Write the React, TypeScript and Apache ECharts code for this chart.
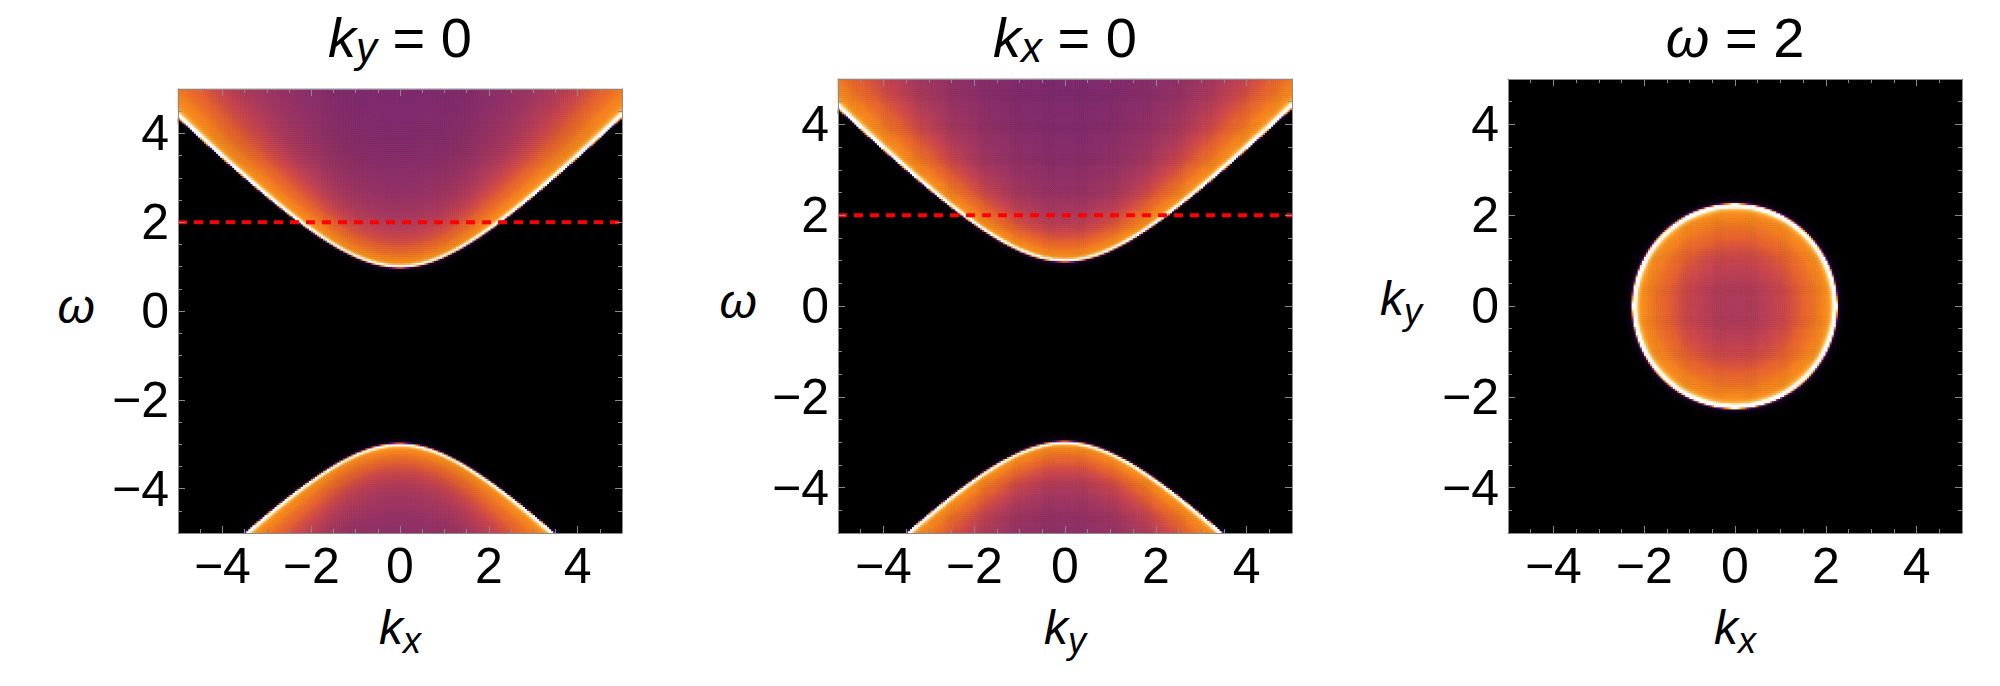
import React, { useEffect, useRef } from "react";
import * as echarts from "echarts";

// ---- data / model parameters ----
const AXIS_MIN = -5;
const AXIS_MAX = 5;
const TICK_LABELS = [-4, -2, 0, 2, 4];
const BAND_OFFSET = -1; // band centre: upper edge minimum at 1, lower edge maximum at -3
const BAND_GAP = 2; // half gap
const BROADENING = 0.03;
const CUT_OMEGA = 2; // red dashed line and third panel slice
const GRID_CELLS = 220;
const SUBSAMPLE = 3;
const VALUE_STOPS = [0, 0.4, 0.85, 1.06, 1.34, 1.5, 1.8, 2.4, 3.4, 4.5, 5.6];
const COLOR_STOPS = [
  "#000000",
  "#1e0830",
  "#5a1d6e",
  "#7d2a6e",
  "#ac3b5c",
  "#c8454e",
  "#e5622f",
  "#f3801f",
  "#f89020",
  "#fcc050",
  "#ffffff",
];
const PANEL_TITLES = ["{i|k}{s|y}{n| = 0}", "{i|k}{s|x}{n| = 0}", "{i|ω}{n| = 2}"];
const X_NAMES = ["{i|k}{s|x}", "{i|k}{s|y}", "{i|k}{s|x}"];
const Y_NAMES = ["{i|ω}", "{i|ω}", "{i|k}{s|y}"];

// ---- layout ----
const FONT = "Liberation Sans, Arial, Helvetica, sans-serif";
const FRAME = "#8a8a8a";
const TICK = "#8a8a8a";
const PANELS = [
  { left: 178, top: 89, size: 444, cx: 400, yGap: 83 },
  { left: 838, top: 79, size: 454, cx: 1065, yGap: 81 },
  { left: 1508, top: 79, size: 454, cx: 1735, yGap: 86 },
];

function spectral(k2: number, w: number): number {
  const a = w - BAND_OFFSET;
  const x = a * a - k2 - BAND_GAP * BAND_GAP;
  const r = Math.sqrt(x * x + BROADENING * BROADENING);
  const rp = x >= 0 ? r + x : (BROADENING * BROADENING) / (r - x);
  return (Math.abs(a) * Math.sqrt(rp / 2)) / r;
}

function toScale(v: number): number {
  const n = VALUE_STOPS.length;
  if (v <= VALUE_STOPS[0]) return 0;
  if (v >= VALUE_STOPS[n - 1]) return 1;
  for (let i = 1; i < n; i++) {
    if (v < VALUE_STOPS[i]) {
      const f = (v - VALUE_STOPS[i - 1]) / (VALUE_STOPS[i] - VALUE_STOPS[i - 1]);
      return (i - 1 + f) / (n - 1);
    }
  }
  return 1;
}

function buildSlice(valueAt: (a: number, b: number) => number): number[][] {
  const step = (AXIS_MAX - AXIS_MIN) / GRID_CELLS;
  const data: number[][] = [];
  for (let i = 0; i < GRID_CELLS; i++) {
    for (let j = 0; j < GRID_CELLS; j++) {
      let sum = 0;
      for (let si = 0; si < SUBSAMPLE; si++) {
        for (let sj = 0; sj < SUBSAMPLE; sj++) {
          const a = AXIS_MIN + (i + (si + 0.5) / SUBSAMPLE) * step;
          const b = AXIS_MIN + (j + (sj + 0.5) / SUBSAMPLE) * step;
          sum += valueAt(a, b);
        }
      }
      const v = sum / (SUBSAMPLE * SUBSAMPLE);
      if (v < 0.05) continue;
      data.push([i, j, toScale(v)]);
    }
  }
  return data;
}

const fmt = (v: number) =>
  TICK_LABELS.indexOf(v) >= 0 ? (v < 0 ? "\u2212" + Math.abs(v) : String(v)) : "";

const nameRich = {
  i: { fontFamily: FONT, fontSize: 48, fontStyle: "italic", lineHeight: 48, color: "#000" },
  s: { fontFamily: FONT, fontSize: 36, fontStyle: "italic", lineHeight: 36, padding: [26, 0, 0, 0], color: "#000" },
};
const titleRich = {
  i: { fontFamily: FONT, fontSize: 56, fontStyle: "italic", lineHeight: 56, color: "#000" },
  s: { fontFamily: FONT, fontSize: 42, fontStyle: "italic", lineHeight: 42, padding: [20, 0, 0, 0], color: "#000" },
  n: { fontFamily: FONT, fontSize: 56, lineHeight: 56, color: "#000" },
};

function buildOption() {
  const cats = Array.from({ length: GRID_CELLS }, (_, i) =>
    (AXIS_MIN + ((i + 0.5) * (AXIS_MAX - AXIS_MIN)) / GRID_CELLS).toFixed(4)
  );
  const grids: any[] = [];
  const xAxis: any[] = [];
  const yAxis: any[] = [];
  const series: any[] = [];
  const lineSeries: any[] = [];
  const slices = [
    buildSlice((kx, w) => spectral(kx * kx, w)),
    buildSlice((ky, w) => spectral(ky * ky, w)),
    buildSlice((kx, ky) => spectral(kx * kx + ky * ky, CUT_OMEGA)),
  ];

  PANELS.forEach((p, g) => {
    grids.push({
      left: p.left,
      top: p.top,
      width: p.size,
      height: p.size,
      show: true,
      backgroundColor: "#000",
      borderWidth: 0,
      outerBoundsMode: "none",
      containLabel: false,
    });
    const catX = xAxis.length;
    xAxis.push({ type: "category", gridIndex: g, data: cats, show: false });
    const majX = xAxis.length;
    const sideAxis = (pos: string, major: boolean, labels: boolean, isX: boolean, extra: any = {}) => ({
      type: "value",
      gridIndex: g,
      position: pos,
      min: AXIS_MIN,
      max: AXIS_MAX,
      ...(major ? { splitNumber: 5 } : { interval: 0.5 }),
      z: 5,
      axisLine: { show: major, onZero: false, lineStyle: { color: FRAME, width: 1 } },
      axisTick: { show: true, inside: true, length: major ? 7 : 4, lineStyle: { color: TICK, width: 1 } },
      axisLabel: labels
        ? {
            show: true,
            margin: isX ? 8 : 9,
            fontSize: 50,
            fontFamily: FONT,
            color: "#000",
            formatter: fmt,
            showMinLabel: false,
            showMaxLabel: false,
          }
        : { show: false },
      splitLine: { show: false },
      axisPointer: { show: false },
      ...extra,
    });
    xAxis.push(
      sideAxis("bottom", true, true, true, {
        name: X_NAMES[g],
        nameLocation: "middle",
        nameGap: 70,
        nameTextStyle: { rich: nameRich, fontFamily: FONT, fontSize: 48 },
      })
    );
    xAxis.push(sideAxis("bottom", false, false, true));
    xAxis.push(sideAxis("top", true, false, true));
    xAxis.push(sideAxis("top", false, false, true));

    const catY = yAxis.length;
    yAxis.push({ type: "category", gridIndex: g, data: cats, show: false });
    const majY = yAxis.length;
    const yPad = g === 2 ? [0, 0, 15, 0] : [0, 0, 9, 0];
    yAxis.push(
      sideAxis("left", true, true, false, {
        name: Y_NAMES[g],
        nameLocation: "middle",
        nameRotate: 0,
        nameGap: p.yGap,
        nameTextStyle: { rich: nameRich, fontFamily: FONT, fontSize: 48, padding: yPad },
      })
    );
    yAxis.push(sideAxis("left", false, false, false));
    yAxis.push(sideAxis("right", true, false, false));
    yAxis.push(sideAxis("right", false, false, false));

    series.push({
      type: "heatmap",
      name: "density " + (g + 1),
      xAxisIndex: catX,
      yAxisIndex: catY,
      data: slices[g],
      progressive: 0,
      progressiveThreshold: 100000000,
      itemStyle: { borderWidth: 0 },
      emphasis: { disabled: true },
      silent: true,
      z: 2,
    });
    if (g < 2) {
      lineSeries.push({
        type: "line",
        name: "cut " + (g + 1),
        xAxisIndex: majX,
        yAxisIndex: majY,
        data: [
          [AXIS_MIN, CUT_OMEGA],
          [AXIS_MAX, CUT_OMEGA],
        ],
        symbol: "none",
        silent: true,
        z: 3,
        lineStyle: { color: "#ff0000", width: 4, type: [9, 7] },
      });
    }
  });

  const graphic = PANELS.map((p, g) => ({
    type: "text",
    x: p.cx,
    y: 9.6,
    silent: true,
    style: {
      text: PANEL_TITLES[g],
      rich: titleRich,
      align: "center",
      verticalAlign: "top",
      fill: "#000",
    },
  }));

  return {
    animation: false,
    backgroundColor: "#ffffff",
    grid: grids,
    xAxis,
    yAxis,
    visualMap: {
      type: "continuous",
      show: false,
      seriesIndex: [0, 1, 2],
      dimension: 2,
      min: 0,
      max: 1,
      inRange: { color: COLOR_STOPS },
    },
    series: [...series, ...lineSeries],
    graphic,
  };
}

export default function App() {
  const ref = useRef<HTMLDivElement>(null);
  useEffect(() => {
    if (!ref.current) return;
    const chart = echarts.init(ref.current, null, { renderer: "svg" });
    chart.setOption(buildOption() as any);
    return () => chart.dispose();
  }, []);
  return (
    <div
      ref={ref}
      style={{ position: "fixed", left: 0, top: 0, width: 2000, height: 686, background: "#fff" }}
    />
  );
}
